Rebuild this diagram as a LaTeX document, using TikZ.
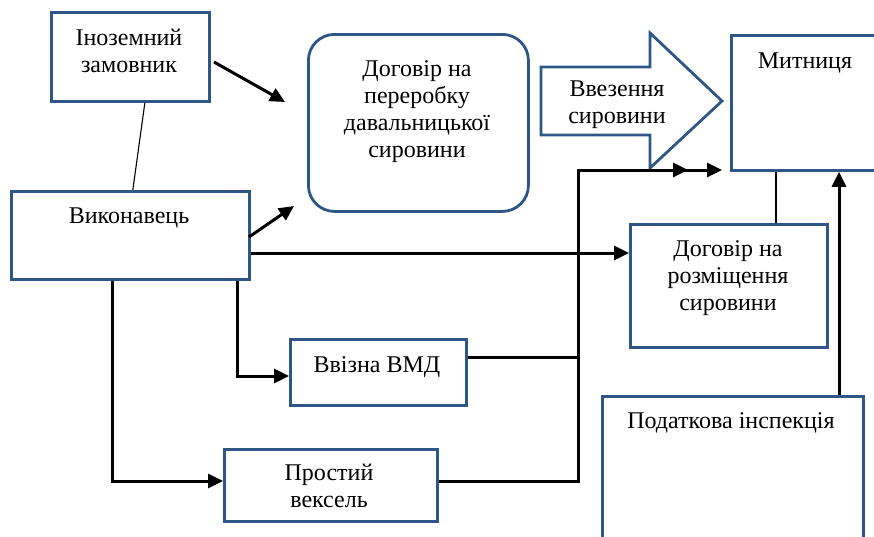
\documentclass[tikz,border=0pt]{standalone}
\usepackage{fontspec}
\setmainfont{Liberation Serif}
\usetikzlibrary{arrows.meta,calc}
\definecolor{bxblue}{HTML}{2E5686}
\begin{document}
\begin{tikzpicture}[x=1pt,y=-1pt,
  box/.style={draw=bxblue, line width=2.8pt, fill=white, inner sep=0pt, anchor=north west},
  txt/.style={font=\fontsize{24}{26.8}\selectfont, align=center, inner sep=0pt, anchor=base},
  conn/.style={draw=black, line width=3pt},
  arr/.style={conn, -{Triangle[length=15pt,width=14pt]}},
  thinl/.style={draw=black, line width=1.1pt}]
\useasboundingbox (0,0) rectangle (874,536);
\clip (0,0) rectangle (874,536);

% boxes
\node[box, minimum width=158pt, minimum height=89pt] (inoz) at (50,11) {};
\node[box, minimum width=238pt, minimum height=88pt] (vyk) at (10,190) {};
\node[box, rounded corners=26pt, minimum width=220pt, minimum height=177pt] (dog) at (307,33) {};
\node[box, minimum width=160pt, minimum height=135pt] (myt) at (730,34) {};
\node[box, minimum width=197pt, minimum height=123pt] (rozm) at (629,223) {};
\node[box, minimum width=261pt, minimum height=160pt] (pod) at (601,395) {};
\node[box, minimum width=176pt, minimum height=66pt] (vmd) at (289,338) {};
\node[box, minimum width=213pt, minimum height=72pt] (veks) at (223,448) {};

% big arrow
\draw[draw=bxblue, line width=2.8pt, fill=white, line join=miter]
  (541,67) -- (650,67) -- (650,33) -- (722,101) -- (650,168) -- (650,135) -- (541,135) -- cycle;

% texts (anchor = baseline of the last line)
\node[txt] (inozT) at (129,72) {Іноземний\\замовник};
\node[txt] (vykT) at (129,223) {Виконавець};
\node[txt] (dogT) at (417,157) {Договір на\\переробку\\давальницької\\сировини};
\node[txt] (vvezT) at (617,123) {Ввезення\\сировини};
\node[txt] (mytT) at (805,68) {Митниця};
\node[txt] (rozmT) at (728,310) {Договір на\\розміщення\\сировини};
\node[txt] (podT) at (731,428) {Податкова інспекція};
\node[txt] (vmdT) at (377,372) {Ввізна ВМД};
\node[txt] (veksT) at (329,507) {Простий\\вексель};

% helper coordinates
\coordinate (a1s) at (214,62);
\coordinate (a1e) at (285,102);
\coordinate (a2s) at (249,237);
\coordinate (a2e) at (294,206);
\coordinate (y253) at (0,253);
\coordinate (x237) at (237,0);
\coordinate (y376) at (0,376);
\coordinate (x112) at (112,0);
\coordinate (y481) at (0,481);
\coordinate (y357) at (0,357);
\coordinate (jx) at (578,0);
\coordinate (y170) at (0,170);
\coordinate (e1) at (688,170);
\coordinate (e2) at (722,170);
\coordinate (x776) at (776,0);
\coordinate (x839) at (839,0);

% connectors
\draw[thinl] ($(inoz.south west)!0.59!(inoz.south east)$) -- ($(vyk.north west)!0.51!(vyk.north east)$);
\draw[arr] (a1s) -- (a1e);
\draw[arr] (a2s) -- (a2e);
\draw[arr] (vyk.east |- y253) -- (rozm.west |- y253);
\draw[arr] (vyk.south -| x237) -- (x237 |- y376) -- (vmd.west |- y376);
\draw[arr] (vyk.south -| x112) -- (x112 |- y481) -- (veks.west |- y481);
\draw[arr] (vmd.east |- y357) -- (jx |- y357) -- (jx |- y170) -- (e1);
\draw[arr] (veks.east |- y481) -- (jx |- y481) -- (jx |- y170) -- (e2);
\draw[thinl] (myt.south -| x776) -- (rozm.north -| x776);
\draw[arr] (pod.north -| x839) -- (myt.south -| x839);
\end{tikzpicture}
\end{document}
